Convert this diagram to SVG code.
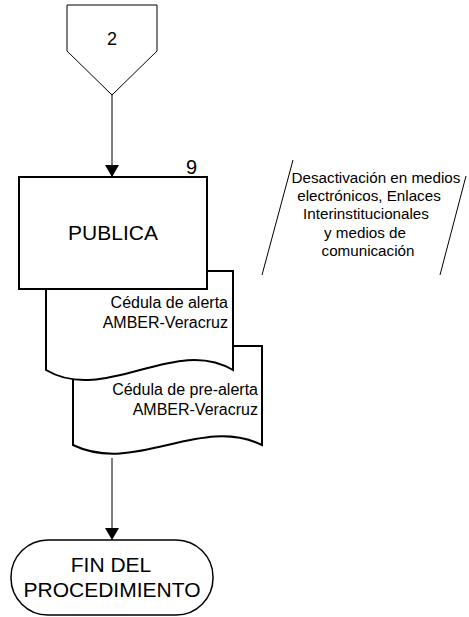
<svg xmlns="http://www.w3.org/2000/svg" width="469" height="617" viewBox="0 0 469 617">
<defs>
<style>
text{font-family:"Liberation Sans",Arial,sans-serif;fill:#000}
.big{font-size:21px}
.mid{font-size:16px}
.ann{font-size:15.2px}
.shape{fill:#fff;stroke:#000;stroke-width:2}
.thin{fill:#fff;stroke:#000;stroke-width:1}
.line{fill:none;stroke:#000;stroke-width:1}
</style>
<marker id="arr" viewBox="0 0 12 14" refX="12" refY="7" markerWidth="12" markerHeight="14" markerUnits="userSpaceOnUse" orient="auto">
<path d="M0,0 L12,7 L0,14 Z" fill="#000"/>
</marker>
</defs>
<rect width="469" height="617" fill="#fff"/>
<g id="connectors">
<line class="line" x1="112" y1="95" x2="112" y2="177" marker-end="url(#arr)"/>
<line class="line" x1="112" y1="458" x2="112" y2="540" marker-end="url(#arr)"/>
</g>
<g id="offpage-2">
<path class="thin" d="M67,5 L157,5 L157,51 L112,95 L67,51 Z"/>
<text x="112" y="45" font-size="18" text-anchor="middle">2</text>
</g>
<g id="doc-prealerta">
<path class="shape" d="M73,346 L262,346 L262,445 C200,415 135,475 73,445 Z"/>
<text class="mid" x="258" y="395" text-anchor="end">Cédula de pre-alerta</text>
<text class="mid" x="258" y="415" text-anchor="end">AMBER-Veracruz</text>
</g>
<g id="doc-alerta">
<path class="shape" d="M46,271 L233,271 L233,370 C175,335 105,405 46,370 Z"/>
<text class="mid" x="228" y="308" text-anchor="end">Cédula de alerta</text>
<text class="mid" x="228" y="328" text-anchor="end">AMBER-Veracruz</text>
</g>
<g id="publica">
<rect class="shape" x="19" y="177" width="188" height="112"/>
<text class="big" x="113" y="240" text-anchor="middle">PUBLICA</text>
<text x="186" y="174" font-size="20">9</text>
</g>
<g id="annotation">
<line class="line" x1="293" y1="160" x2="262" y2="275"/>
<line class="line" x1="466" y1="176" x2="440" y2="275"/>
<text class="ann" x="376" y="183" text-anchor="middle">Desactivación en medios</text>
<text class="ann" x="369" y="201" text-anchor="middle">electrónicos, Enlaces</text>
<text class="ann" x="366" y="219" text-anchor="middle">Interinstitucionales</text>
<text class="ann" x="365" y="238" text-anchor="middle">y medios de</text>
<text class="ann" x="368" y="256" text-anchor="middle">comunicación</text>
</g>
<g id="fin">
<rect class="shape" x="11" y="540" width="202" height="75" rx="37" ry="37" style="stroke-width:1.5"/>
<text class="big" x="111" y="572" text-anchor="middle">FIN DEL</text>
<text class="big" x="112" y="597" text-anchor="middle">PROCEDIMIENTO</text>
</g>
</svg>
